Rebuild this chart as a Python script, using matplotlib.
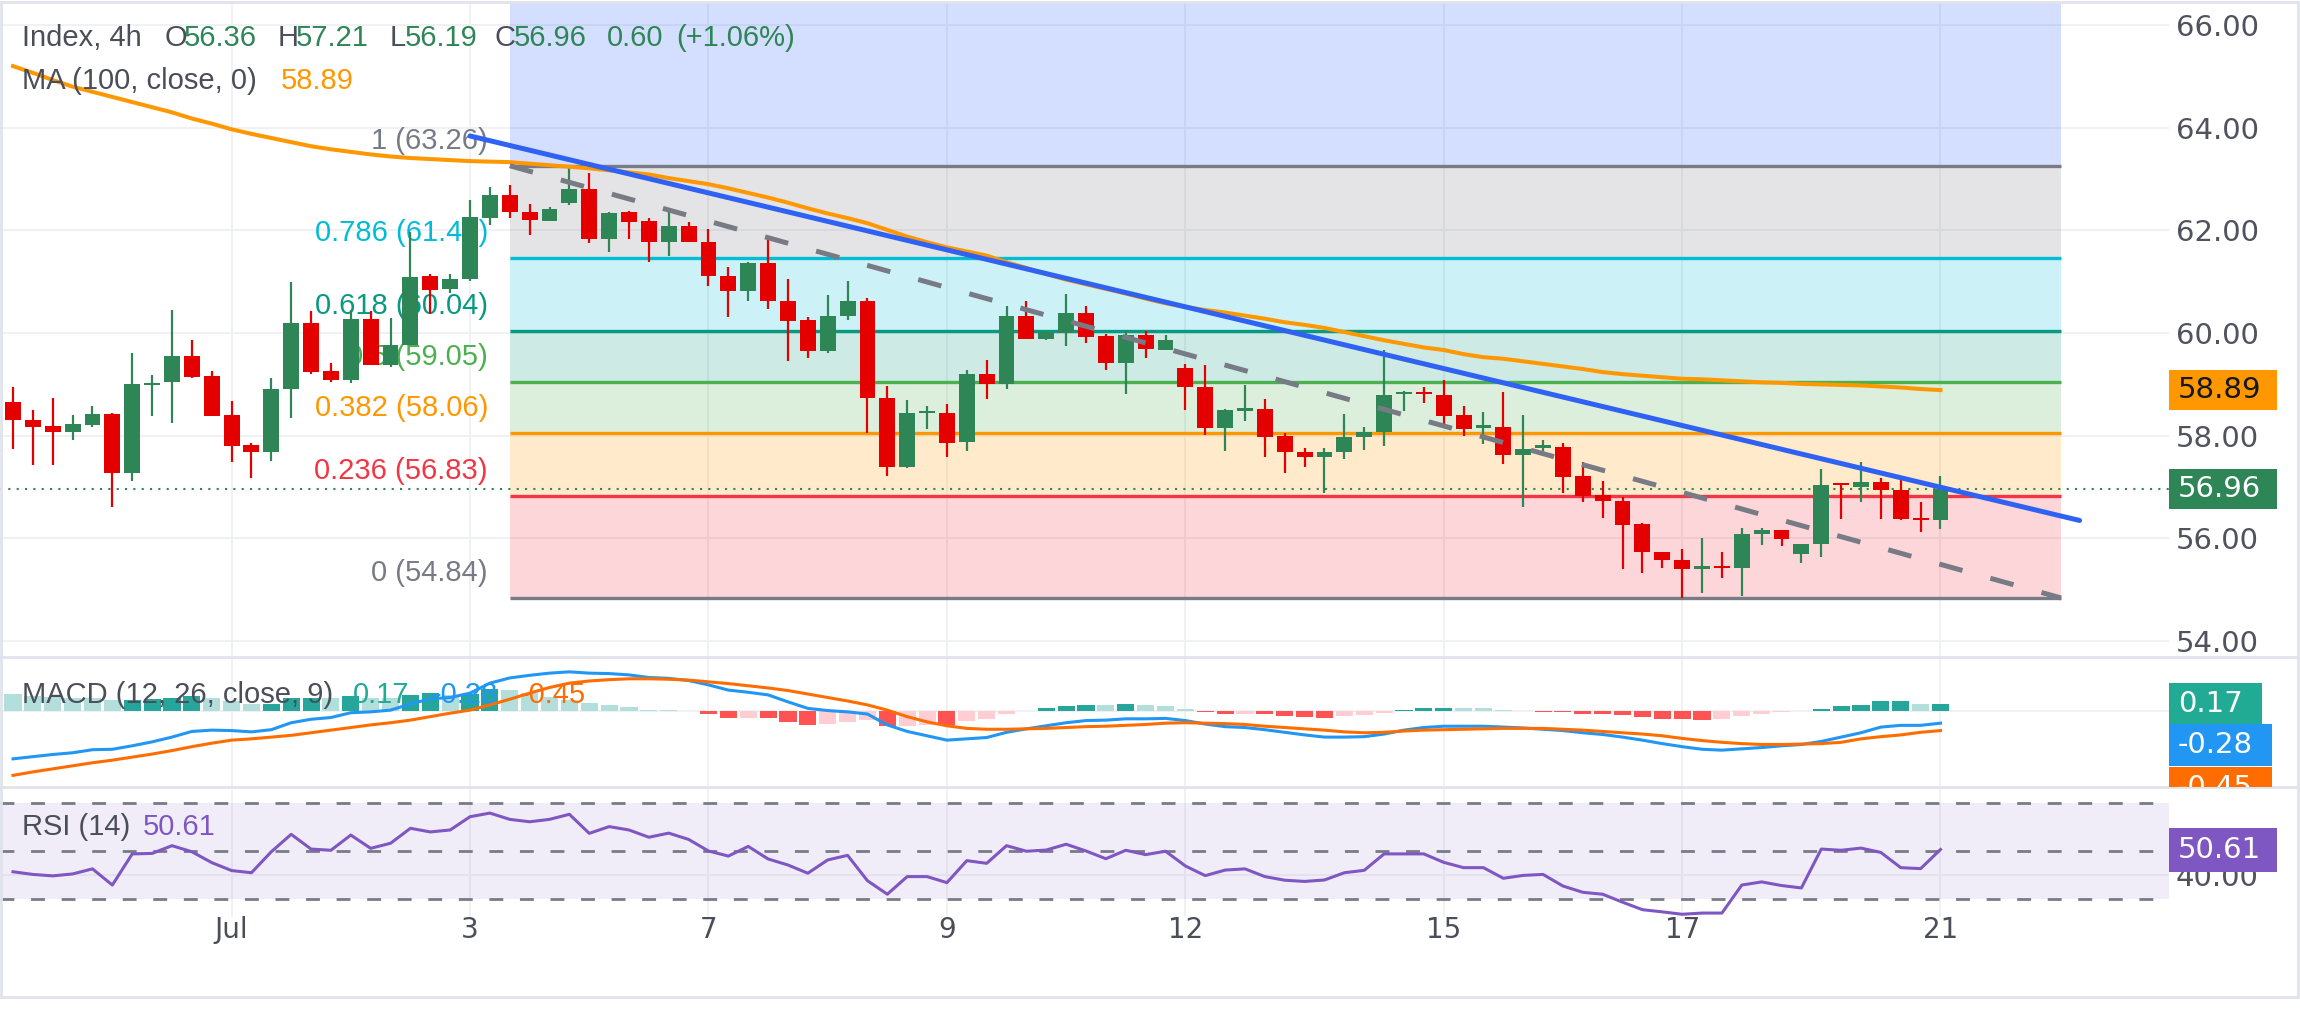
import matplotlib
matplotlib.use("Agg")
import matplotlib.pyplot as plt
from matplotlib.lines import Line2D
from matplotlib.patches import Rectangle
from matplotlib.transforms import Bbox, TransformedBbox, blended_transform_factory

# ---------------- data (4h bars) ----------------
opens = [58.65, 58.30, 58.19, 58.08, 58.21, 58.42, 57.27, 58.99, 59.05, 59.56,
         59.16, 58.40, 57.82, 57.69, 58.92, 60.20, 59.26, 59.09, 60.28, 59.38,
         59.77, 61.12, 60.86, 61.05, 62.25, 62.69, 62.36, 62.19, 62.54, 62.80,
         61.83, 62.36, 62.19, 61.77, 62.09, 61.78, 61.12, 60.82, 61.37, 60.63,
         60.25, 59.65, 60.34, 60.63, 58.74, 57.40, 58.44, 58.45, 57.88, 59.21,
         59.01, 60.33, 59.89, 60.01, 60.40, 59.94, 59.42, 59.97, 59.67, 59.32,
         58.95, 58.15, 58.49, 58.53, 57.99, 57.68, 57.59, 57.68, 57.98, 58.07,
         58.81, 58.84, 58.79, 58.40, 58.16, 58.17, 57.63, 57.77, 57.78, 57.22,
         56.85, 56.73, 56.29, 55.73, 55.58, 55.41, 55.44, 55.42, 56.08, 56.16,
         55.69, 55.89, 57.06, 57.01, 57.09, 56.94, 56.39, 56.36]
highs = [58.95, 58.51, 58.74, 58.40, 58.58, 58.45, 59.61, 59.18, 60.44, 59.87,
         59.26, 58.68, 57.85, 59.13, 61.00, 60.43, 59.42, 60.44, 60.43, 60.30,
         61.96, 61.15, 61.15, 62.59, 62.85, 62.89, 62.52, 62.45, 63.26, 63.12,
         62.36, 62.38, 62.25, 62.35, 62.16, 62.03, 61.29, 61.39, 61.86, 61.05,
         60.32, 60.75, 61.02, 60.69, 58.96, 58.69, 58.58, 58.61, 59.29, 59.47,
         60.53, 60.62, 60.04, 60.77, 60.53, 59.99, 60.06, 60.04, 59.96, 59.40,
         59.38, 58.53, 58.99, 58.71, 58.05, 57.77, 57.77, 58.42, 58.18, 59.68,
         58.88, 58.94, 59.09, 58.57, 58.46, 58.85, 58.40, 57.92, 57.85, 57.48,
         57.12, 56.81, 56.31, 55.73, 55.79, 56.00, 55.73, 56.20, 56.20, 56.16,
         55.90, 57.36, 57.06, 57.48, 57.17, 57.17, 56.70, 57.21]
lows = [57.75, 57.43, 57.43, 57.92, 58.17, 56.62, 57.11, 58.38, 58.25, 59.13,
        58.39, 57.48, 57.17, 57.51, 58.34, 59.21, 59.05, 59.02, 59.38, 59.33,
        59.76, 60.38, 60.78, 61.02, 62.11, 62.25, 61.92, 62.19, 62.50, 61.75,
        61.57, 61.83, 61.38, 61.51, 61.77, 60.91, 60.31, 60.63, 60.46, 59.46,
        59.51, 59.61, 60.26, 58.06, 57.22, 57.37, 58.14, 57.59, 57.71, 58.71,
        58.91, 59.89, 59.87, 59.75, 59.81, 59.28, 58.81, 59.51, 59.67, 58.50,
        58.01, 57.71, 58.29, 57.59, 57.27, 57.40, 56.88, 57.54, 57.73, 57.81,
        58.49, 58.63, 58.21, 57.99, 57.84, 57.45, 56.62, 57.71, 56.88, 56.70,
        56.40, 55.40, 55.33, 55.42, 54.84, 54.94, 55.22, 54.88, 55.88, 55.86,
        55.53, 55.63, 56.38, 56.70, 56.38, 56.36, 56.12, 56.19]
closes = [58.30, 58.17, 58.08, 58.23, 58.43, 57.27, 59.00, 59.03, 59.56, 59.15,
          58.39, 57.81, 57.69, 58.92, 60.20, 59.24, 59.09, 60.28, 59.38, 59.77,
          61.10, 60.84, 61.05, 62.27, 62.69, 62.35, 62.21, 62.42, 62.80, 61.83,
          62.34, 62.17, 61.77, 62.09, 61.77, 61.11, 60.82, 61.37, 60.62, 60.23,
          59.65, 60.34, 60.63, 58.74, 57.40, 58.45, 58.46, 57.86, 59.21, 59.01,
          60.33, 59.89, 60.02, 60.40, 59.93, 59.42, 59.96, 59.69, 59.86, 58.94,
          58.15, 58.50, 58.53, 57.98, 57.69, 57.59, 57.68, 57.97, 58.07, 58.79,
          58.84, 58.81, 58.39, 58.13, 58.19, 57.63, 57.74, 57.80, 57.20, 56.83,
          56.72, 56.27, 55.73, 55.57, 55.40, 55.43, 55.42, 56.08, 56.16, 55.98,
          55.89, 57.04, 57.04, 57.09, 56.94, 56.38, 56.36, 56.96]
ma100 = [65.20, 65.07, 64.93, 64.80, 64.70, 64.60, 64.50, 64.40, 64.30, 64.18,
         64.08, 63.97, 63.88, 63.80, 63.72, 63.64, 63.58, 63.53, 63.48, 63.44,
         63.41, 63.39, 63.37, 63.35, 63.34, 63.33, 63.30, 63.27, 63.24, 63.21,
         63.17, 63.13, 63.09, 63.02, 62.96, 62.90, 62.82, 62.73, 62.64, 62.54,
         62.43, 62.33, 62.24, 62.14, 62.01, 61.88, 61.77, 61.67, 61.59, 61.51,
         61.38, 61.27, 61.15, 61.04, 60.95, 60.86, 60.77, 60.67, 60.58, 60.51,
         60.45, 60.40, 60.34, 60.28, 60.21, 60.16, 60.10, 60.02, 59.94, 59.86,
         59.79, 59.72, 59.67, 59.59, 59.53, 59.50, 59.45, 59.40, 59.35, 59.30,
         59.24, 59.20, 59.17, 59.14, 59.11, 59.10, 59.08, 59.06, 59.04, 59.03,
         59.01, 59.00, 58.99, 58.98, 58.96, 58.94, 58.91, 58.89]
macd_line = [-1.10, -1.05, -1.00, -0.96, -0.89, -0.88, -0.80, -0.71, -0.60, -0.47,
             -0.44, -0.45, -0.48, -0.43, -0.27, -0.19, -0.15, -0.04, -0.02, 0.02,
             0.16, 0.28, 0.31, 0.41, 0.64, 0.76, 0.82, 0.87, 0.90, 0.87,
             0.86, 0.83, 0.77, 0.75, 0.70, 0.60, 0.48, 0.43, 0.37, 0.21,
             0.06, 0.01, -0.02, -0.07, -0.32, -0.47, -0.57, -0.67, -0.64, -0.61,
             -0.49, -0.41, -0.34, -0.27, -0.22, -0.21, -0.18, -0.18, -0.17, -0.22,
             -0.30, -0.36, -0.38, -0.43, -0.49, -0.55, -0.60, -0.60, -0.59, -0.53,
             -0.44, -0.38, -0.35, -0.35, -0.35, -0.37, -0.39, -0.42, -0.45, -0.50,
             -0.54, -0.60, -0.67, -0.75, -0.82, -0.88, -0.90, -0.87, -0.84, -0.80,
             -0.77, -0.70, -0.60, -0.50, -0.37, -0.33, -0.33, -0.28]
signal_line = [-1.48, -1.40, -1.33, -1.26, -1.19, -1.13, -1.06, -0.99, -0.91, -0.82,
               -0.74, -0.67, -0.64, -0.60, -0.56, -0.50, -0.44, -0.38, -0.32, -0.27,
               -0.21, -0.13, -0.05, 0.02, 0.14, 0.27, 0.41, 0.54, 0.64, 0.69,
               0.72, 0.74, 0.74, 0.73, 0.71, 0.67, 0.63, 0.58, 0.53, 0.47,
               0.39, 0.31, 0.23, 0.14, 0.02, -0.13, -0.25, -0.34, -0.40, -0.42,
               -0.42, -0.41, -0.40, -0.38, -0.36, -0.35, -0.33, -0.31, -0.28, -0.27,
               -0.28, -0.29, -0.31, -0.35, -0.38, -0.41, -0.44, -0.48, -0.50, -0.49,
               -0.46, -0.44, -0.43, -0.42, -0.41, -0.40, -0.40, -0.40, -0.42, -0.44,
               -0.47, -0.50, -0.53, -0.57, -0.63, -0.68, -0.72, -0.75, -0.77, -0.77,
               -0.76, -0.75, -0.72, -0.64, -0.59, -0.55, -0.49, -0.45]
rsi = [41.4, 40.3, 39.7, 40.5, 42.6, 35.9, 48.8, 49.0, 52.2, 49.7,
       45.2, 41.9, 41.0, 49.7, 56.9, 50.8, 50.3, 56.6, 51.1, 53.2,
       59.4, 57.9, 58.7, 64.2, 65.7, 63.1, 62.1, 63.1, 65.2, 57.3,
       60.1, 58.7, 55.7, 57.4, 54.8, 50.0, 47.9, 51.9, 46.7, 44.2,
       40.8, 46.3, 48.2, 37.7, 32.1, 39.4, 39.4, 36.9, 46.0, 44.9,
       52.2, 49.9, 50.4, 52.8, 50.0, 46.8, 50.3, 48.5, 49.9, 43.8,
       39.8, 42.1, 42.6, 39.4, 37.9, 37.4, 38.0, 41.0, 42.0, 48.8,
       48.8, 48.8, 45.3, 43.1, 43.1, 38.7, 39.9, 40.3, 35.5, 32.9,
       32.1, 28.8, 25.7, 24.8, 23.8, 24.3, 24.3, 35.9, 37.2, 35.7,
       34.7, 50.8, 50.3, 51.2, 49.4, 43.1, 42.7, 50.61]

tick_bars = [11, 23, 35, 47, 59, 72, 84, 97]
tick_labels = ["Jul", "3", "7", "9", "12", "15", "17", "21"]
price_ticks = [54, 56, 58, 60, 62, 64, 66]

fib_labels = ["0", "0.236", "0.382", "0.5", "0.618", "0.786", "1", "1.618"]
fib_prices = [54.84, 56.83, 58.06, 59.05, 60.04, 61.46, 63.26, 68.46]
fib_colors = ["#787b86", "#f23645", "#ff9800", "#4caf50", "#089981", "#00bcd4", "#787b86", "#2962ff"]
fib_x = [25.0, 103.07]
trend_x, trend_y = [23.0, 104.0], [63.84, 56.35]
dash_x, dash_y = [25.0, 103.07], [63.26, 54.84]

last_price, ma_last = 56.96, 58.89
macd_last, signal_last, hist_last, rsi_last = -0.28, -0.45, 0.17, 50.61

# ---------------- figure ----------------
W, H = 2300, 1030
plt.rcParams['font.family'] = ['Liberation Sans', 'DejaVu Sans']
GREEN, RED = "#2e8555", "#e50000"
GRID, SEP, TXT, AXT = "#eef0f4", "#e0e3eb", "#4a4e59", "#50535e"
XLIM = (-0.654, 108.5)
AXW = 2169

fig = plt.figure(figsize=(W / 100, H / 100), dpi=100)


def px_axes(x0, y0, x1, y1):
    a = fig.add_axes([x0 / W, 1 - y1 / H, (x1 - x0) / W, (y1 - y0) / H])
    for s in a.spines.values():
        s.set_visible(False)
    a.set_xlim(*XLIM)
    a.set_xticks([])
    a.set_yticks([])
    for b in tick_bars:
        a.axvline(b, color=GRID, lw=1.3, zorder=0)
    return a


ax = px_axes(0, 3, AXW, 657)
axm = px_axes(0, 657, AXW, 787)
axr = px_axes(0, 787, AXW, 917)

# ---- main price pane ----
ax.set_ylim(53.69, 66.43)
for p in price_ticks:
    ax.axhline(p, color=GRID, lw=1.3, zorder=0)

for i in range(1, len(fib_prices)):
    ax.fill_between(fib_x, fib_prices[i - 1], fib_prices[i], color=fib_colors[i],
                    alpha=0.2, lw=0, zorder=1)
for lab, p, c in zip(fib_labels, fib_prices, fib_colors):
    if p > 66.4:
        continue
    ax.hlines(p, fib_x[0], fib_x[1], color=c, lw=2.4, zorder=2)
    ax.annotate(f"{lab} ({p:.2f})", xy=(23.9, p), xytext=(0, 18), textcoords="offset points",
                ha="right", va="center", color=c, fontsize=21, zorder=1.5)

ax.axhline(last_price, color=GREEN, lw=1.5, linestyle=(0, (1, 3)), zorder=2.5)

for i, (o, h, l, c) in enumerate(zip(opens, highs, lows, closes)):
    col = GREEN if c >= o else RED
    ax.vlines(i, l, h, color=col, lw=1.6, zorder=3)
    ax.bar(i, max(abs(c - o), 0.045), bottom=min(o, c), width=0.8, color=col, lw=0, zorder=4)

ax.plot(range(len(ma100)), ma100, color="#ff9800", lw=2.9, zorder=5)
ax.plot(trend_x, trend_y, color="#2f62f2", lw=3.6, zorder=6, solid_capstyle="round")
ax.plot(dash_x, dash_y, color="#787b86", lw=3.6, dashes=(4.8, 5.8), zorder=6)

ax.yaxis.tick_right()
ax.set_yticks(price_ticks)
ax.set_yticklabels([f"{p:.2f}" for p in price_ticks])
ax.tick_params(axis="y", length=0, pad=5, labelsize=21, labelcolor=AXT,
               labelfontfamily="DejaVu Sans")

# ---- MACD pane ----
axm.set_ylim(-1.747, 1.241)
axm.axhline(0, color=GRID, lw=1.3, zorder=0)
hist = [m - s for m, s in zip(macd_line, signal_line)]
hist_cols = []
for i, h in enumerate(hist):
    prev = hist[i - 1] if i > 0 else h
    if h >= 0:
        hist_cols.append("#26a69a" if h > prev else "#b2dfdb")
    else:
        hist_cols.append("#ff5252" if h < prev else "#ffcdd2")
axm.bar(range(len(hist)), hist, width=0.86, color=hist_cols, lw=0, zorder=1)
axm.plot(range(len(macd_line)), macd_line, color="#2196f3", lw=2.2, zorder=3)
axm.plot(range(len(signal_line)), signal_line, color="#ff6d00", lw=2.2, zorder=3)

# ---- RSI pane ----
axr.set_ylim(22.67, 76.5)
axr.axhspan(30, 70, color="#7e57c2", alpha=0.1, lw=0, zorder=0)
axr.axhline(40, color="#e4e1ee", lw=1.3, zorder=0.5)
for lvl in (70, 50, 30):
    axr.axhline(lvl, color="#787b86", lw=2, dashes=(5, 6), zorder=1)
axr.plot(range(len(rsi)), rsi, color="#7e57c2", lw=2.2, zorder=3)
axr.yaxis.tick_right()
axr.set_yticks([40])
axr.set_yticklabels(["40.00"])
axr.tick_params(axis="y", length=0, pad=5, labelsize=21, labelcolor=AXT,
                labelfontfamily="DejaVu Sans")
axr.set_xticks(tick_bars)
axr.set_xticklabels(tick_labels)
axr.tick_params(axis="x", length=0, pad=-1, labelsize=20, labelcolor=TXT,
                labelfontfamily="DejaVu Sans")


# ---- value boxes on the price scale ----
def value_box(a, yc, text, face, tcol, w_px, h_px, px_per_unit, clip=None):
    tr = blended_transform_factory(a.transAxes, a.transData)
    r = Rectangle((1.0, yc - h_px / 2 / px_per_unit), w_px / AXW, h_px / px_per_unit,
                  transform=tr, facecolor=face, edgecolor="none", zorder=5)
    t = plt.Text(1 + 9 / AXW, yc, text, transform=tr, color=tcol, fontsize=21,
                 va="center", ha="left", family="DejaVu Sans", zorder=6)
    for art in (r, t):
        if clip is not None:
            art.set_clip_box(clip)
            art.set_clip_on(True)
        else:
            art.set_clip_on(False)
        fig.add_artist(art)


value_box(ax, ma_last, f"{ma_last:.2f}", "#ff9800", "#131722", 108, 40, 51.34)
value_box(ax, last_price, f"{last_price:.2f}", GREEN, "white", 108, 40, 51.34)
macd_clip = TransformedBbox(Bbox([[0, 1 - 787 / H], [1, 1 - 657 / H]]), fig.transFigure)
value_box(axm, hist_last, f"{hist_last:.2f}", "#22ab94", "white", 93, 41, 43.5)
value_box(axm, -0.793, f"{macd_last:.2f}", "#2196f3", "white", 103, 42, 43.5)
value_box(axm, -1.77, f"{signal_last:.2f}", "#ff6d00", "white", 103, 42, 43.5, clip=macd_clip)
value_box(axr, rsi_last, f"{rsi_last:.2f}", "#7e57c2", "white", 108, 44, 2.415)

# ---- pane separators and frame ----
for yy in (657, 787):
    fig.add_artist(Line2D([0, 2298 / W], [1 - yy / H] * 2, color=SEP, lw=2,
                          transform=fig.transFigure))
fig.add_artist(Rectangle((0.0005, 1 - 997 / H), 2297 / W, 995 / H, fill=False,
                         edgecolor=SEP, lw=2, transform=fig.transFigure))


# ---- legends ----
def legend(parts, y):
    for s, x, c in parts:
        fig.text(x / W, 1 - y / H, s, color=c, fontsize=21, va="center", ha="left")


legend([("Index, 4h", 22, TXT), ("O", 165, TXT), ("56.36", 184, GREEN), ("H", 278, TXT),
        ("57.21", 296, GREEN), ("L", 390, TXT), ("56.19", 405, GREEN), ("C", 495, TXT),
        ("56.96", 514, GREEN), ("0.60", 607, GREEN), ("(+1.06%)", 676, GREEN)], 38)
legend([("MA (100, close, 0)", 22, TXT), ("58.89", 281, "#ff9800")], 81)
legend([("MACD (12, 26, close, 9)", 22, TXT), ("0.17", 353, "#22ab94"),
        ("-0.28", 432, "#2196f3"), ("-0.45", 520, "#ff6d00")], 695)
legend([("RSI (14)", 22, TXT), ("50.61", 143, "#7e57c2")], 827)

for a in (ax, axm, axr):
    a.set_xlim(*XLIM)

fig.savefig("out.png", dpi=100, facecolor="white")
